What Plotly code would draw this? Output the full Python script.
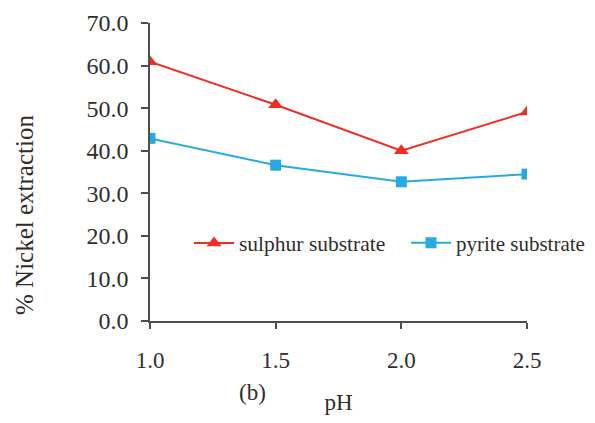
import plotly.graph_objects as go

ph = [1.0, 1.5, 2.0, 2.5]
sulphur = [60.9, 50.8, 40.0, 49.1]
pyrite = [42.9, 36.6, 32.7, 34.5]
y_ticks = [0, 10, 20, 30, 40, 50, 60, 70]

FONT = "Liberation Serif"
TXT = "#2e2e2e"
RED = "#EE2D24"
BLUE = "#27AAE1"
AX = "#4d4d4d"

OFF = 8  # page body margin
W, H = 595 - OFF, 423 - OFF
L, T = 150 - OFF, 23 - OFF
pw, ph_px = 377, 298
R, B = W - L - pw, H - T - ph_px


def px_x(x):
    return (x - OFF - L) / pw


def px_y(y):
    return (T + ph_px - (y - OFF)) / ph_px


def cx(x):
    return (x - OFF) / W


def cy(y):
    return (H - (y - OFF)) / H


fig = go.Figure()
fig.add_trace(go.Scatter(x=ph, y=sulphur, mode="lines+markers", name="sulphur substrate",
                         line=dict(color=RED, width=2),
                         marker=dict(symbol="triangle-up", size=13, color=RED),
                         legend="legend"))
fig.add_trace(go.Scatter(x=ph, y=pyrite, mode="lines+markers", name="pyrite substrate",
                         line=dict(color=BLUE, width=2),
                         marker=dict(symbol="square", size=11, color=BLUE),
                         legend="legend2"))

leg_common = dict(xref="container", yref="container", xanchor="left", yanchor="middle",
                  bgcolor="rgba(0,0,0,0)", itemwidth=40,
                  borderwidth=0, tracegroupgap=0)

fig.update_layout(
    width=W, height=H,
    margin=dict(l=L, r=R, t=T, b=B, pad=0, autoexpand=False),
    paper_bgcolor="white", plot_bgcolor="white",
    font=dict(family=FONT, color=TXT, size=20),
    xaxis=dict(range=[1.0, 2.5], tickvals=ph, tickformat=".1f", automargin=False,
               showgrid=False, zeroline=False, showline=True,
               linecolor=AX, linewidth=1.5,
               ticks="outside", ticklen=6, tickcolor=AX, tickwidth=1.5,
               tickfont=dict(size=23, family=FONT, color=TXT),
               ticklabelstandoff=12,
               title=dict(text="pH", font=dict(size=23, family=FONT, color=TXT), standoff=22)),
    yaxis=dict(range=[0, 70], tickvals=y_ticks, tickformat=".1f", automargin=False,
               showgrid=False, zeroline=False, showline=True,
               linecolor=AX, linewidth=1.5,
               ticks="outside", ticklen=7, tickcolor=AX, tickwidth=1.5,
               tickfont=dict(size=24, family=FONT, color=TXT),
               ticklabelstandoff=8),
    showlegend=True,
    legend=dict(x=cx(189), y=cy(243), font=dict(size=21.5, family=FONT, color=TXT), **leg_common),
    legend2=dict(x=cx(406), y=cy(243), font=dict(size=21, family=FONT, color=TXT), **leg_common),
    annotations=[
        dict(text="% Nickel extraction", textangle=-90, xref="paper", yref="paper",
             x=px_x(24), y=px_y(215), showarrow=False,
             font=dict(size=25, family=FONT, color=TXT), xanchor="center", yanchor="middle"),
        dict(text="(b)", xref="paper", yref="paper",
             x=px_x(252), y=px_y(392), showarrow=False,
             font=dict(size=23, family=FONT, color=TXT), xanchor="center", yanchor="middle"),
    ],
)

fig.write_html("out.html")
